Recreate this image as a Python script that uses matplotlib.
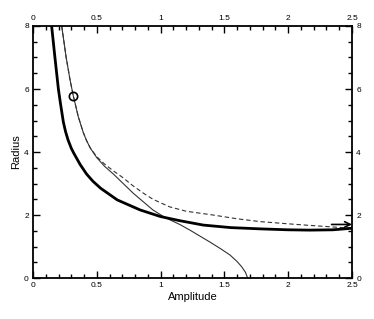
import numpy as np
import matplotlib
matplotlib.use("Agg")
import matplotlib.pyplot as plt
from matplotlib.ticker import MultipleLocator, FormatStrFormatter

plt.rcParams['font.family'] = ['Liberation Sans', 'DejaVu Sans']

# thick solid curve
thick_a = [0.146, 0.172, 0.199, 0.215, 0.238, 0.255, 0.275, 0.3, 0.32, 0.37, 0.42, 0.47,
           0.53, 0.66, 0.84, 1.0, 1.15, 1.335, 1.55, 1.78, 2.0, 2.17, 2.35, 2.5]
thick_r = [8.0, 7.0, 6.0, 5.55, 4.95, 4.65, 4.38, 4.12, 3.96, 3.6, 3.3, 3.07,
           2.85, 2.48, 2.16, 1.95, 1.82, 1.68, 1.6, 1.56, 1.53, 1.52, 1.53, 1.58]

# thin solid curve
thin_a = [0.225, 0.26, 0.29, 0.316, 0.355, 0.394, 0.42, 0.45, 0.5, 0.56, 0.63, 0.786,
          0.94, 1.035, 1.15, 1.23, 1.387, 1.47, 1.544, 1.6, 1.635, 1.665, 1.682]
thin_r = [8.0, 7.0, 6.3, 5.78, 5.12, 4.62, 4.36, 4.12, 3.82, 3.55, 3.3, 2.69,
          2.16, 1.92, 1.7, 1.52, 1.14, 0.93, 0.73, 0.52, 0.36, 0.18, 0.0]

# dashed curve
dash_a = [0.225, 0.26, 0.29, 0.316, 0.355, 0.394, 0.42, 0.45, 0.5, 0.56, 0.63, 0.7,
          0.786, 0.87, 0.94, 1.07, 1.2, 1.41, 1.6, 1.78, 2.0, 2.17, 2.35, 2.5]
dash_r = [8.0, 7.0, 6.3, 5.78, 5.12, 4.62, 4.36, 4.12, 3.85, 3.62, 3.4, 3.2,
          2.92, 2.68, 2.5, 2.26, 2.12, 2.0, 1.88, 1.79, 1.72, 1.67, 1.62, 1.58]

# marked point and arrow
pt_a, pt_r = 0.316, 5.78
arrow_start = (2.34, 1.70)
arrow_end = (2.5, 1.70)

fig = plt.figure(figsize=(3.74, 3.19), dpi=100)
ax = fig.add_axes([0.0882, 0.1285, 0.853, 0.79])

ax.plot(dash_a, dash_r, color='#333333', lw=0.8, ls=(0, (4, 2.5)))
ax.plot(thin_a, thin_r, color='#333333', lw=0.8)
ax.plot(thick_a, thick_r, color='black', lw=2.0)
ax.plot([pt_a], [pt_r], 'o', mfc='none', mec='black', ms=6, mew=1.2)
ax.annotate('', xy=arrow_end, xytext=arrow_start,
            arrowprops=dict(arrowstyle='->', color='black', lw=1.2,
                            shrinkA=0, shrinkB=0))

ax.set_xlim(0, 2.5)
ax.set_ylim(0, 8)
ax.xaxis.set_major_locator(MultipleLocator(0.5))
ax.xaxis.set_minor_locator(MultipleLocator(0.1))
ax.yaxis.set_major_locator(MultipleLocator(2))
ax.yaxis.set_minor_locator(MultipleLocator(0.5))
ax.xaxis.set_major_formatter(FormatStrFormatter('%g'))
ax.yaxis.set_major_formatter(FormatStrFormatter('%g'))
ax.tick_params(which='both', direction='in', top=True, right=True,
               labeltop=True, labelright=True, labelsize=6, width=1.0, pad=3)
ax.tick_params(which='major', length=5)
ax.tick_params(which='minor', length=3)
for s in ax.spines.values():
    s.set_linewidth(1.3)

ax.set_xlabel('Amplitude', fontsize=8, labelpad=2)
ax.set_ylabel('Radius', fontsize=8, labelpad=2)

fig.savefig('out.png', dpi=100)
